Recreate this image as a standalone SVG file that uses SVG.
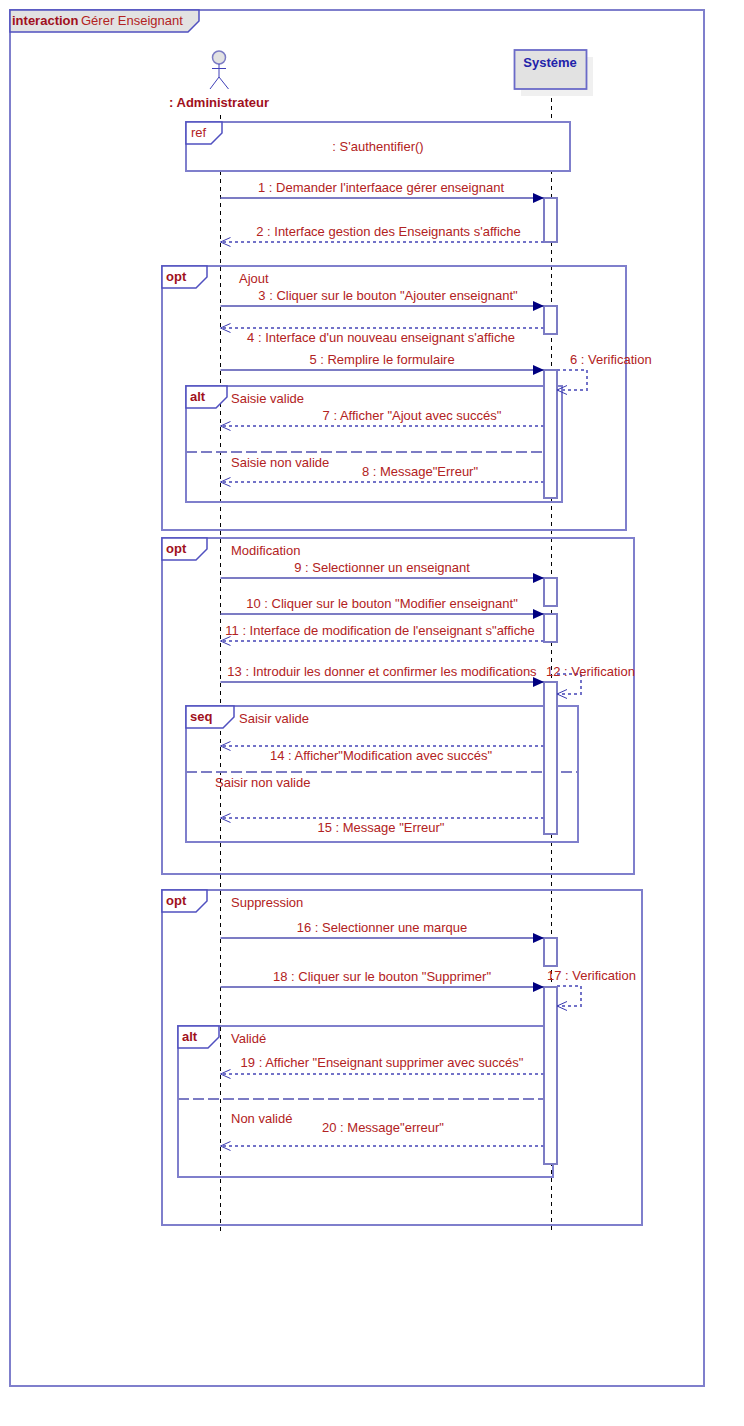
<svg xmlns="http://www.w3.org/2000/svg" width="744" height="1426" viewBox="0 0 744 1426">
<defs>
<marker id="solid" markerUnits="userSpaceOnUse" markerWidth="12" markerHeight="12" refX="11" refY="6" orient="auto"><path d="M0,1 L11,6 L0,11 Z" fill="#000080"/></marker>
<marker id="open" markerUnits="userSpaceOnUse" markerWidth="12" markerHeight="12" refX="10.500" refY="6" orient="auto"><path d="M0.500,1.500 L10.500,6 L0.500,10.500" fill="none" stroke="#3a3ab0" stroke-width="1"/></marker>
</defs>
<style>
text{font-family:"Liberation Sans",Arial,sans-serif;font-size:13px;fill:#b22222}
.b{font-weight:bold;fill:#a01020}
.m{text-anchor:middle}
.f{fill:none;stroke:#7f7fcc;stroke-width:2}
.tab{fill:#fff;stroke:#5050c0;stroke-width:1.5}
.life{stroke:#000;stroke-width:1;stroke-dasharray:4 4;fill:none}
.call{stroke:#7c7cc4;stroke-width:2;fill:none;marker-end:url(#solid)}
.ret{stroke:#7272c8;stroke-width:2;stroke-dasharray:3 3;fill:none;marker-end:url(#open)}
.div{stroke:#7c7cc4;stroke-width:2;stroke-dasharray:11 4;fill:none}
.act{fill:#fff;stroke:#7c7cc4;stroke-width:2}
</style>
<g id="frame-main">
<rect class="f" x="10" y="10" width="694" height="1376"/>
<path d="M10,10 H199 V21 L188,32 H10 Z" fill="#e2e2e2" stroke="#5050c0" stroke-width="1.5"/>
<text x="12" y="25" class="b">interaction</text>
<text x="81" y="25">Gérer Enseignant</text>
</g>
<g id="connectors-life">
<path class="life" d="M220.500,115 V1234"/>
<path class="life" d="M551.500,90 V1234"/>
</g>
<g id="actor-admin">
<circle cx="219" cy="57.500" r="6.500" fill="#e2e2e2" stroke="#7c7cc4" stroke-width="1.500"/>
<path d="M219,64 V77 M212,68.500 H226 M219,77 L210,89 M219,77 L228.500,89" fill="none" stroke="#4040b8" stroke-width="1"/>
<text x="219" y="107" class="b m">: Administrateur</text>
</g>
<g id="node-systeme">
<rect x="521" y="57" width="72" height="39" fill="#f0f0f0"/>
<rect x="514.500" y="50" width="72" height="39" fill="#e2e2e2" stroke="#6a6ac8" stroke-width="1.800"/>
<text x="550" y="67" class="m" style="font-weight:bold;fill:#2222aa">Systéme</text>
</g>
<g id="frame-ref">
<rect x="186" y="122" width="384" height="49" style="fill:#fff;stroke:#7f7fcc;stroke-width:2"/>
<path class="tab" d="M186,122 H222 V133 L211,144 H186 Z"/>
<text x="191" y="137">ref</text>
<text x="378" y="151" class="m">: S'authentifier()</text>
</g>
<g id="frame-opt1">
<rect class="f" x="162" y="266" width="464" height="264"/>
<path class="tab" d="M162,266 H207 V277 L196,288 H162 Z"/>
<text x="166" y="281" class="b">opt</text>
<text x="239" y="283">Ajout</text>
</g>
<g id="frame-alt1">
<rect class="f" x="186" y="386" width="376" height="116"/>
<path class="tab" d="M186,386 H227 V397 L216,408 H186 Z"/>
<text x="190" y="401" class="b">alt</text>
<text x="231" y="403">Saisie valide</text>
<text x="231" y="467">Saisie non valide</text>
<path class="div" d="M186,452 H560"/>
</g>
<g id="frame-opt2">
<rect class="f" x="162" y="538" width="472" height="336"/>
<path class="tab" d="M162,538 H207 V549 L196,560 H162 Z"/>
<text x="166" y="553" class="b">opt</text>
<text x="231" y="555">Modification</text>
</g>
<g id="frame-seq">
<rect class="f" x="186" y="706" width="392" height="136"/>
<path class="tab" d="M186,706 H234 V717 L223,728 H186 Z"/>
<text x="190" y="721" class="b">seq</text>
<text x="239" y="723">Saisir valide</text>
<text x="215" y="787">Saisir non valide</text>
<path class="div" d="M186,772 H578"/>
</g>
<g id="frame-opt3">
<rect class="f" x="162" y="890" width="480" height="335"/>
<path class="tab" d="M162,890 H207 V901 L196,912 H162 Z"/>
<text x="166" y="905" class="b">opt</text>
<text x="231" y="907">Suppression</text>
</g>
<g id="frame-alt2">
<path class="f" d="M178,1026 H553 V1177 H178 Z"/>
<path class="tab" d="M178,1026 H219 V1037 L208,1048 H178 Z"/>
<text x="182" y="1041" class="b">alt</text>
<text x="231" y="1043">Validé</text>
<text x="231" y="1123">Non validé</text>
<path class="div" d="M178,1099 H544"/>
</g>
<g id="activations">
<rect class="act" x="544" y="198" width="13" height="44"/>
<rect class="act" x="544" y="306" width="13" height="28"/>
<rect class="act" x="544" y="370" width="13" height="128"/>
<rect class="act" x="544" y="578" width="13" height="28"/>
<rect class="act" x="544" y="614" width="13" height="28"/>
<rect class="act" x="544" y="682" width="13" height="152"/>
<rect class="act" x="544" y="938" width="13" height="28"/>
<rect class="act" x="544" y="987" width="13" height="177"/>
</g>
<g id="connectors">
<path class="call" d="M220.500,198 H544"/>
<path class="ret" d="M544,242 H220.500"/>
<path class="call" d="M220.500,306 H544"/>
<path class="ret" d="M544,328 H220.500"/>
<path class="call" d="M220.500,370 H544"/>
<path class="ret" d="M557,370 H587 V390 H557"/>
<path class="ret" d="M544,426 H220.500"/>
<path class="ret" d="M544,482 H220.500"/>
<path class="call" d="M220.500,578 H544"/>
<path class="call" d="M220.500,614 H544"/>
<path class="ret" d="M544,641 H220.500"/>
<path class="call" d="M220.500,682 H544"/>
<path class="ret" d="M557,674 H581 V694 H557"/>
<path class="ret" d="M544,746 H220.500"/>
<path class="ret" d="M544,818 H220.500"/>
<path class="call" d="M220.500,938 H544"/>
<path class="call" d="M220.500,987 H544"/>
<path class="ret" d="M557,986 H581 V1006 H557"/>
<path class="ret" d="M544,1074 H220.500"/>
<path class="ret" d="M544,1146 H220.500"/>
</g>
<g id="labels">
<text x="381" y="192" class="m">1 : Demander l'interfaace gérer enseignant</text>
<text x="388.500" y="236" class="m">2 : Interface gestion des Enseignants s'affiche</text>
<text x="388" y="300" class="m">3 : Cliquer sur le bouton "Ajouter enseignant"</text>
<text x="381" y="342" class="m">4 : Interface d'un nouveau enseignant s'affiche</text>
<text x="382" y="364" class="m">5 : Remplire le formulaire</text>
<text x="570" y="364">6 : Verification</text>
<text x="412" y="420" class="m">7 : Afficher "Ajout avec succés"</text>
<text x="420" y="476" class="m">8 : Message"Erreur"</text>
<text x="382" y="572" class="m">9 : Selectionner un enseignant</text>
<text x="382" y="608" class="m">10 : Cliquer sur le bouton "Modifier enseignant"</text>
<text x="380" y="635" class="m">11 : Interface de modification de l'enseignant s"affiche</text>
<text x="382" y="676" class="m">13 : Introduir les donner et confirmer les modifications</text>
<text x="546" y="676">12 : Verification</text>
<text x="381" y="760" class="m">14 : Afficher"Modification avec succés"</text>
<text x="381" y="832" class="m">15 : Message "Erreur"</text>
<text x="382" y="932" class="m">16 : Selectionner une marque</text>
<text x="382" y="981" class="m">18 : Cliquer sur le bouton "Supprimer"</text>
<text x="547" y="980">17 : Verification</text>
<text x="382" y="1067" class="m">19 : Afficher "Enseignant supprimer avec succés"</text>
<text x="383" y="1132" class="m">20 : Message"erreur"</text>
</g>
</svg>
